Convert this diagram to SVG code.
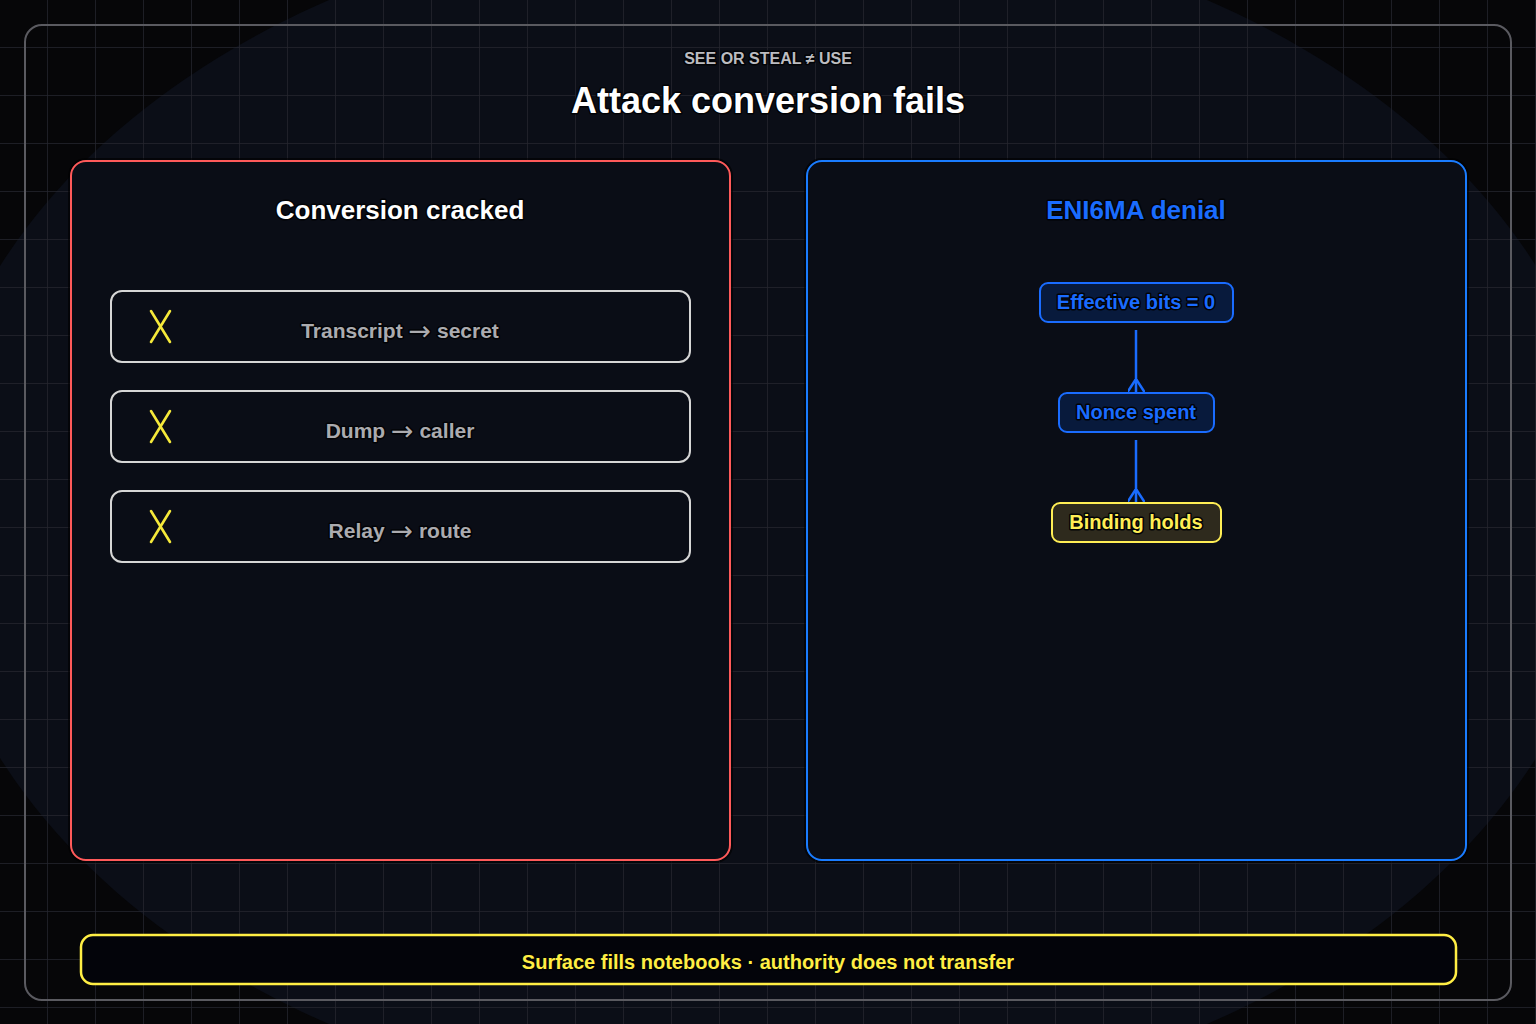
<svg xmlns="http://www.w3.org/2000/svg" width="1536" height="1024" viewBox="0 0 1536 1024">
  <defs>
    <pattern id="grid" width="48" height="48" patternUnits="userSpaceOnUse">
      <path d="M48 0 V48 M0 48 H48" fill="none" stroke="#25262e" stroke-width="1.5"/>
    </pattern>
    <marker id="fork" viewBox="0 0 10 10" refX="10" refY="5" markerWidth="13" markerHeight="17" markerUnits="userSpaceOnUse" orient="auto" preserveAspectRatio="none">
      <path d="M10,0 L0,5 L10,10" fill="none" stroke="#1a6cff" stroke-width="1.6"/>
    </marker>
    <style>
      text { font-family: "Liberation Sans", Arial, sans-serif; font-weight: bold; text-anchor: middle; paint-order: stroke; stroke: #020306; stroke-width: 3; stroke-linejoin: round; }
      .row rect { fill: #0a0d16; stroke: #d6d6d6; stroke-width: 2; }
      .row text { fill: #ababaf; font-size: 21px; }
      .arr { font-family: "DejaVu Sans", sans-serif; font-weight: normal; font-size: 27px; baseline-shift: -2px; }
      .xm { stroke: #f5e93a; stroke-width: 2.6; stroke-linecap: round; }
      .bn rect { fill: #081a3c; stroke: #1a6cff; stroke-width: 2; }
      .bn text { fill: #1a6cff; font-size: 20px; }
      .conn line { stroke: #1a6cff; stroke-width: 2.5; }
    </style>
  </defs>

  <rect x="0" y="0" width="1536" height="1024" fill="#060608"/>
  <ellipse cx="768" cy="512" rx="842" ry="600" fill="#0b0e17"/>
  <rect x="0" y="0" width="1536" height="1024" fill="url(#grid)"/>

  <rect id="frame" x="25" y="25" width="1486" height="975" rx="17" fill="none" stroke="#5a5a60" stroke-width="2"/>

  <g id="header">
    <text x="768" y="64" font-size="16" fill="#bcbcc0">SEE OR STEAL ≠ USE</text>
    <text x="768" y="113" font-size="36" fill="#ffffff">Attack conversion fails</text>
  </g>

  <g id="panel-left">
    <rect x="71" y="161" width="659" height="699" rx="15" fill="#0a0d16" stroke="#000" stroke-opacity="0.6" stroke-width="6"/>
    <rect x="71" y="161" width="659" height="699" rx="15" fill="#0a0d16" stroke="#ff5a5a" stroke-width="2"/>
    <text x="400" y="219" font-size="26" fill="#ffffff">Conversion cracked</text>
  </g>

  <g id="row-transcript" class="row">
    <rect x="111" y="291" width="579" height="71" rx="11"/>
    <line class="xm" x1="151" y1="311" x2="170" y2="342"/>
    <line class="xm" x1="170" y1="311" x2="151" y2="342"/>
    <text x="400" y="338">Transcript <tspan class="arr">→</tspan> secret</text>
  </g>
  <g id="row-dump" class="row">
    <rect x="111" y="391" width="579" height="71" rx="11"/>
    <line class="xm" x1="151" y1="411" x2="170" y2="442"/>
    <line class="xm" x1="170" y1="411" x2="151" y2="442"/>
    <text x="400" y="438">Dump <tspan class="arr">→</tspan> caller</text>
  </g>
  <g id="row-relay" class="row">
    <rect x="111" y="491" width="579" height="71" rx="11"/>
    <line class="xm" x1="151" y1="511" x2="170" y2="542"/>
    <line class="xm" x1="170" y1="511" x2="151" y2="542"/>
    <text x="400" y="538">Relay <tspan class="arr">→</tspan> route</text>
  </g>

  <g id="panel-right">
    <rect x="807" y="161" width="659" height="699" rx="15" fill="#0a0d16" stroke="#000" stroke-opacity="0.6" stroke-width="6"/>
    <rect x="807" y="161" width="659" height="699" rx="15" fill="#0a0d16" stroke="#1a7cff" stroke-width="2"/>
    <text x="1136" y="219" font-size="26" fill="#1a6cff">ENI6MA denial</text>
  </g>

  <g id="node-effective" class="bn">
    <rect x="1040" y="283" width="193" height="39" rx="8"/>
    <text x="1136" y="309">Effective bits = 0</text>
  </g>
  <g id="node-nonce" class="bn">
    <rect x="1059" y="393" width="155" height="39" rx="8"/>
    <text x="1136" y="419">Nonce spent</text>
  </g>
  <g id="node-binding">
    <rect x="1052" y="503" width="169" height="39" rx="8" fill="#2e2a1d" stroke="#ffee55" stroke-width="2"/>
    <text x="1136" y="529" font-size="20" fill="#ffee55">Binding holds</text>
  </g>

  <g id="connectors" class="conn">
    <line x1="1136" y1="330" x2="1136" y2="392" marker-end="url(#fork)"/>
    <line x1="1136" y1="440" x2="1136" y2="502" marker-end="url(#fork)"/>
  </g>

  <g id="footer">
    <rect x="81" y="935" width="1375" height="49" rx="12" fill="#03040a" stroke="#ffee44" stroke-width="2.5"/>
    <text x="768" y="969" font-size="20" fill="#ffee44">Surface fills notebooks · authority does not transfer</text>
  </g>
</svg>
